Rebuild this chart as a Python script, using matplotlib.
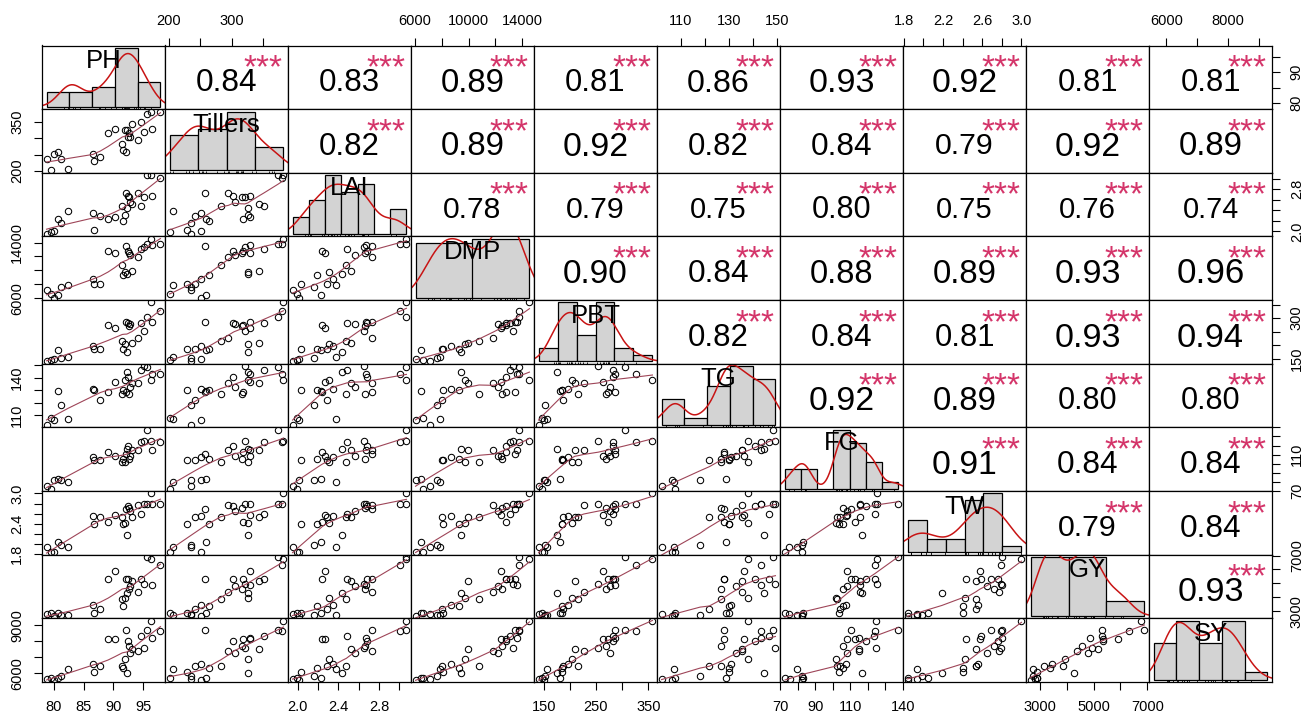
import numpy as np
import matplotlib
matplotlib.use("Agg")
import matplotlib.pyplot as plt
import matplotlib.transforms as mtransforms

plt.rcParams["font.family"] = ["Liberation Sans", "DejaVu Sans"]

# -------------------------------------------------
# Data (27 genotypes)
# -------------------------------------------------

VARS = ["PH", "Tillers", "LAI", "DMP", "PBT", "TG", "FG", "TW", "GY", "SY"]

PH = [78.8, 79.6, 80.0, 80.8, 81.3, 82.4, 86.6, 86.7, 87.8, 89.1, 90.2, 91.5, 91.6, 91.9,
      92.2, 92.3, 92.4, 92.6, 92.8, 93.1, 94.2, 94.7, 95.1, 95.6, 96.3, 96.5, 97.9]
TILLERS = [235, 201, 251, 259, 235, 206, 252, 229, 242, 318, 329, 283, 264, 326,
           257, 327, 303, 316, 305, 344, 295, 352, 321, 374, 383, 329, 380]
LAI = [1.95, 1.99, 2.01, 2.23, 2.16, 2.38, 2.35, 2.03, 2.29, 2.24, 2.27, 2.48, 2.19, 2.31,
       2.73, 2.44, 2.68, 2.66, 2.56, 2.52, 2.73, 2.49, 2.65, 3.07, 3.07, 2.67, 3.01]
DMP = [7113, 6632, 6058, 6437, 7649, 7899, 8704, 8093, 7991, 12821, 12432, 10785, 9287, 9768,
       13450, 9425, 12821, 12478, 12191, 9950, 11849, 13052, 13329, 13792, 14532, 13607, 13792]
PBT = [140.2, 146.5, 150.4, 180.8, 152.6, 155.5, 197.3, 184.5, 187.1, 273.1, 263.0, 216.1, 184.5, 203.5,
       285.7, 175.8, 282.1, 269.3, 277.0, 209.8, 226.3, 282.1, 254.0, 304.8, 357.9, 285.7, 326.3]
TG = [101.9, 107.5, 106.1, 129.0, 118.0, 106.9, 131.0, 130.1, 121.9, 128.2, 136.4, 126.8, 130.1, 137.9,
      128.2, 144.7, 141.0, 126.8, 132.9, 135.7, 135.7, 146.7, 149.5, 148.4, 137.9, 143.4, 143.4]
FG = [75.6, 72.9, 82.5, 83.2, 82.5, 79.8, 107.5, 103.7, 104.4, 112.5, 108.3, 102.5, 105.6, 101.8,
      110.5, 116.4, 119.0, 105.6, 108.3, 115.2, 115.2, 123.7, 124.8, 137.1, 124.8, 115.2, 124.0]
TW = [1.94, 1.84, 1.84, 2.05, 1.99, 1.94, 2.56, 2.40, 2.54, 2.44, 2.58, 2.54, 2.40, 2.42,
      2.69, 2.19, 2.76, 2.72, 2.65, 2.54, 2.77, 2.59, 2.79, 2.80, 3.00, 2.80, 2.79]
GY = [2800, 2899, 2650, 2899, 2725, 2725, 3461, 2899, 3142, 5350, 5917, 3878, 3386, 3948,
      5303, 4272, 5350, 4562, 4806, 5176, 4370, 5303, 4932, 6896, 6774, 4858, 6334]
SY = [5630, 5694, 5589, 5694, 5843, 6267, 6541, 6053, 6476, 8126, 8166, 6476, 6327, 6900,
      8718, 6013, 8010, 7702, 7279, 7533, 7384, 8335, 7597, 8718, 9287, 8230, 8654]

DATA = [PH, TILLERS, LAI, DMP, PBT, TG, FG, TW, GY, SY]

# correlation coefficients printed in the upper panels (row i, columns i+1 ..)
R_PH = [0.84, 0.83, 0.89, 0.81, 0.86, 0.93, 0.92, 0.81, 0.81]
R_TILLERS = [0.82, 0.89, 0.92, 0.82, 0.84, 0.79, 0.92, 0.89]
R_LAI = [0.78, 0.79, 0.75, 0.80, 0.75, 0.76, 0.74]
R_DMP = [0.90, 0.84, 0.88, 0.89, 0.93, 0.96]
R_PBT = [0.82, 0.84, 0.81, 0.93, 0.94]
R_TG = [0.92, 0.89, 0.80, 0.80]
R_FG = [0.91, 0.84, 0.84]
R_TW = [0.79, 0.84]
R_GY = [0.93]
R_ROWS = [R_PH, R_TILLERS, R_LAI, R_DMP, R_PBT, R_TG, R_FG, R_TW, R_GY]
SIGNIF = "***"

# histogram breaks (start, stop, step)
BREAKS = [(75, 100, 5), (200, 400, 50), (1.8, 3.2, 0.2), (5000, 15000, 5000), (100, 400, 50),
          (100, 150, 10), (70, 140, 10), (1.8, 3.0, 0.2), (2000, 8000, 2000), (5000, 10000, 1000)]

# axis ticks: values, tick strings, labels shown on x axis, labels shown on y axis
TICKS = [
    ([80, 85, 90, 95], ["80", "85", "90", "95"], ["80", "85", "90", "95"], ["80", "90"]),
    ([200, 250, 300, 350], ["200", "250", "300", "350"], ["200", "300"], ["200", "350"]),
    ([2.0, 2.2, 2.4, 2.6, 2.8, 3.0], ["2.0", "2.2", "2.4", "2.6", "2.8", "3.0"],
     ["2.0", "2.4", "2.8"], ["2.0", "2.8"]),
    ([6000, 8000, 10000, 12000, 14000], ["6000", "8000", "10000", "12000", "14000"],
     ["6000", "10000", "14000"], ["6000", "14000"]),
    ([150, 200, 250, 300, 350], ["150", "200", "250", "300", "350"],
     ["150", "250", "350"], ["150", "300"]),
    ([110, 120, 130, 140, 150], ["110", "120", "130", "140", "150"],
     ["110", "130", "150"], ["110", "140"]),
    ([70, 80, 90, 100, 110, 120, 130, 140], ["70", "80", "90", "100", "110", "120", "130", "140"],
     ["70", "90", "110", "140"], ["70", "110"]),
    ([1.8, 2.0, 2.2, 2.4, 2.6, 2.8, 3.0], ["1.8", "2.0", "2.2", "2.4", "2.6", "2.8", "3.0"],
     ["1.8", "2.2", "2.6", "3.0"], ["1.8", "2.4", "3.0"]),
    ([3000, 4000, 5000, 6000, 7000], ["3000", "4000", "5000", "6000", "7000"],
     ["3000", "5000", "7000"], ["3000", "7000"]),
    ([6000, 7000, 8000, 9000], ["6000", "7000", "8000", "9000"], ["6000", "8000"], ["6000", "9000"]),
]

# -------------------------------------------------
# Style
# -------------------------------------------------

W, H, DPI = 1307, 715, 100
LEFT, RIGHT, TOP, BOTTOM = 42, 1272, 45.5, 682
PANEL_H = (BOTTOM - TOP) / 10.0

STAR_COL = "#D4356A"
DENS_COL = "#C81414"
SMOOTH_COL = "#9E4558"
HIST_COL = "#D3D3D3"

TICK_KW = dict(length=5.8, width=0.8, pad=7, labelsize=10.5, direction="out")


def ext_range(v, pad=0.04):
    lo, hi = float(np.min(v)), float(np.max(v))
    d = (hi - lo) * pad
    return lo - d, hi + d


def lowess(x, y, f=2.0 / 3.0, iters=3):
    order = np.argsort(x, kind="mergesort")
    x = np.asarray(x, float)[order]
    y = np.asarray(y, float)[order]
    n = len(x)
    r = int(np.ceil(f * n))
    delta = np.ones(n)
    yfit = np.zeros(n)
    for _ in range(iters + 1):
        for i in range(n):
            d = np.abs(x - x[i])
            h = np.sort(d)[r - 1]
            w = np.clip(d / max(h, 1e-12), 0, 1)
            w = (1 - w ** 3) ** 3 * delta
            sw = w.sum()
            mx = (w * x).sum() / sw
            my = (w * y).sum() / sw
            sxx = (w * (x - mx) ** 2).sum()
            b = (w * (x - mx) * (y - my)).sum() / sxx if sxx > 1e-12 else 0.0
            yfit[i] = my + b * (x[i] - mx)
        res = y - yfit
        s = np.median(np.abs(res))
        if s <= 0:
            break
        u = np.clip(res / (6 * s), -1, 1)
        delta = (1 - u ** 2) ** 2
    return x, yfit


def kde(v):
    v = np.asarray(v, float)
    n = len(v)
    iqr = np.percentile(v, 75) - np.percentile(v, 25)
    bw = 0.9 * min(np.std(v, ddof=1), iqr / 1.34) * n ** (-0.2)
    g = np.linspace(v.min() - 3 * bw, v.max() + 3 * bw, 512)
    dens = np.exp(-0.5 * ((g[:, None] - v[None, :]) / bw) ** 2).sum(axis=1)
    dens /= n * bw * np.sqrt(2 * np.pi)
    return g, dens


def baseline_for(center_frac, fontsize, glyph_center_em):
    em_px = fontsize * DPI / 72.0
    return center_frac - glyph_center_em * em_px / PANEL_H


def shown(strings, keep):
    return [s if s in keep else "" for s in strings]


# -------------------------------------------------
# Figure
# -------------------------------------------------

fig = plt.figure(figsize=(W / DPI, H / DPI), dpi=DPI)
gs = fig.add_gridspec(10, 10, left=LEFT / W, right=RIGHT / W,
                      top=1 - TOP / H, bottom=1 - BOTTOM / H,
                      wspace=0, hspace=0)

ranges = [ext_range(v) for v in DATA]

for i in range(10):
    for j in range(10):
        ax = fig.add_subplot(gs[i, j])
        ax.set_xticks([])
        ax.set_yticks([])
        for s in ax.spines.values():
            s.set_linewidth(0.9)

        # diagonal: histogram + density + rug + name
        if i == j:
            v = np.asarray(DATA[i], float)
            b0, b1, st = BREAKS[i]
            edges = np.round(np.arange(b0, b1 + st / 2, st), 6)
            idx = np.searchsorted(edges, v, side="left") - 1
            idx = np.clip(idx, 0, len(edges) - 2)
            counts = np.bincount(idx, minlength=len(edges) - 1)
            dens = counts / (len(v) * st)
            ax.bar(edges[:-1], dens, width=st, align="edge", color=HIST_COL,
                   edgecolor="black", linewidth=0.9, zorder=1)
            m = dens.max()
            ax.set_xlim(ext_range(edges))
            ax.set_ylim(-0.04 * m, 1.04 * m)
            g, d = kde(v)
            ax.plot(g, d, color=DENS_COL, lw=1.1, zorder=2)
            trans = mtransforms.blended_transform_factory(ax.transData, ax.transAxes)
            ax.vlines(v, 0, 0.035, transform=trans, color="black", lw=0.6, zorder=3)
            fs = 18.5
            ax.text(0.5, baseline_for(0.79, fs, 0.358), VARS[i], transform=ax.transAxes,
                    ha="center", va="baseline", fontsize=fs, zorder=4)
            continue

        ax.set_xlim(ranges[j])
        ax.set_ylim(ranges[i])

        if i > j:
            # lower: scatter + lowess
            ax.plot(DATA[j], DATA[i], "o", mfc="none", mec="black", ms=4.6, mew=0.75)
            sx, sy = lowess(DATA[j], DATA[i])
            ax.plot(sx, sy, color=SMOOTH_COL, lw=0.8)
        else:
            # upper: correlation + stars
            r = R_ROWS[i][j - i - 1]
            fs = 26.0 * (abs(r) + 0.3) / 1.3
            ax.text(0.5, baseline_for(0.458, fs, 0.358), "%.2f" % r, transform=ax.transAxes,
                    ha="center", va="baseline", fontsize=fs)
            ax.text(0.8, baseline_for(0.80, 24, 0.57), SIGNIF, transform=ax.transAxes,
                    ha="center", va="baseline", fontsize=24, color=STAR_COL)

        # outer axes, alternating sides like pairs()
        if i == 9 and j % 2 == 0:
            t, strs, xl, _ = TICKS[j]
            ax.set_xticks(t)
            ax.set_xticklabels(shown(strs, xl))
            ax.tick_params(axis="x", bottom=True, labelbottom=True, **TICK_KW)
        if i == 0 and j % 2 == 1:
            t, strs, xl, _ = TICKS[j]
            ax.xaxis.tick_top()
            ax.set_xticks(t)
            ax.set_xticklabels(shown(strs, xl))
            ax.tick_params(axis="x", top=True, labeltop=True, bottom=False, **TICK_KW)
        if j == 0 and i % 2 == 1:
            t, strs, _, yl = TICKS[i]
            ax.set_yticks(t)
            ax.set_yticklabels(shown(strs, yl), rotation=90, va="center")
            ax.tick_params(axis="y", left=True, labelleft=True, **TICK_KW)
        if j == 9 and i % 2 == 0:
            t, strs, _, yl = TICKS[i]
            ax.yaxis.tick_right()
            ax.set_yticks(t)
            ax.set_yticklabels(shown(strs, yl), rotation=90, va="center")
            ax.tick_params(axis="y", right=True, labelright=True, left=False, **TICK_KW)

fig.savefig("out.png", dpi=DPI)
